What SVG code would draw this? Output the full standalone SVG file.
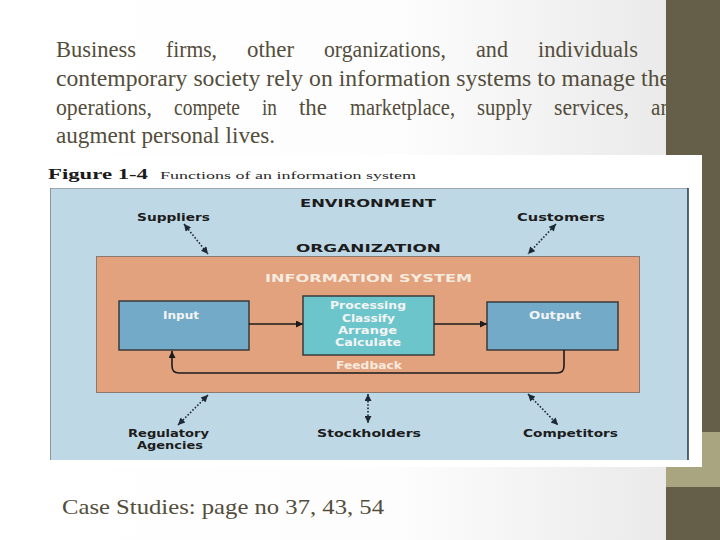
<svg xmlns="http://www.w3.org/2000/svg" width="720" height="540" viewBox="0 0 720 540">
<defs>
<linearGradient id="bg" x1="0" y1="0" x2="1" y2="0">
<stop offset="0" stop-color="#ffffff"/>
<stop offset="0.55" stop-color="#fdfdfd"/>
<stop offset="1" stop-color="#e6e6e6"/>
</linearGradient>
<marker id="ah" viewBox="0 0 10 10" refX="10" refY="5" markerUnits="userSpaceOnUse" markerWidth="10" markerHeight="7" orient="auto-start-reverse">
<path d="M0,0 L10,5 L0,10 z" fill="#1b1b1b"/>
</marker>
<marker id="dh" viewBox="0 0 10 10" refX="10" refY="5" markerUnits="userSpaceOnUse" markerWidth="9" markerHeight="7" orient="auto-start-reverse">
<path d="M0,0 L10,5 L0,10 z" fill="#1d2a36"/>
</marker>
<style>
.para{font-family:"Liberation Serif",serif;font-size:24px;fill:#534d3c}
.lbl{font-family:"DejaVu Sans",sans-serif;font-weight:bold;font-size:10.5px;fill:#1c1c1c}
.box{font-family:"DejaVu Sans",sans-serif;font-weight:bold;font-size:10px;fill:#f4f4f4}
.lt{font-family:"DejaVu Sans",sans-serif;font-weight:bold;font-size:11px;fill:#f7eadf}
.dot{fill:none;stroke:#1d2a36;stroke-width:1.6;stroke-dasharray:1.6 1.8;marker-start:url(#dh);marker-end:url(#dh)}
.sol{fill:none;stroke:#1b1b1b;stroke-width:1.6}
.sq{stroke:#3a3a3a;stroke-width:1.5}
</style>
</defs>
<rect x="0" y="0" width="720" height="540" fill="url(#bg)"/>
<rect x="666" y="0" width="54" height="540" fill="#655e48"/>
<rect x="666" y="432" width="54" height="55" fill="#a9a581"/>

<g id="paragraph" class="para">
<text x="56" y="57" textLength="80" lengthAdjust="spacingAndGlyphs">Business</text>
<text x="166" y="57" textLength="51" lengthAdjust="spacingAndGlyphs">firms,</text>
<text x="247" y="57" textLength="47" lengthAdjust="spacingAndGlyphs">other</text>
<text x="324" y="57" textLength="122" lengthAdjust="spacingAndGlyphs">organizations,</text>
<text x="476" y="57" textLength="32" lengthAdjust="spacingAndGlyphs">and</text>
<text x="538" y="57" textLength="100" lengthAdjust="spacingAndGlyphs">individuals</text>
<text x="56" y="86" textLength="614" lengthAdjust="spacingAndGlyphs">contemporary society rely on information systems to manage the</text>
<text x="56" y="115" textLength="96" lengthAdjust="spacingAndGlyphs">operations,</text>
<text x="174" y="115" textLength="66" lengthAdjust="spacingAndGlyphs">compete</text>
<text x="262" y="115" textLength="15" lengthAdjust="spacingAndGlyphs">in</text>
<text x="299" y="115" textLength="28" lengthAdjust="spacingAndGlyphs">the</text>
<text x="350" y="115" textLength="105" lengthAdjust="spacingAndGlyphs">marketplace,</text>
<text x="477" y="115" textLength="55" lengthAdjust="spacingAndGlyphs">supply</text>
<text x="554" y="115" textLength="75" lengthAdjust="spacingAndGlyphs">services,</text>
<text x="651" y="115" textLength="20" lengthAdjust="spacingAndGlyphs">an</text>
<text x="56" y="143" textLength="219" lengthAdjust="spacingAndGlyphs">augment personal lives.</text>
</g>
<rect x="666" y="0" width="54" height="150" fill="#655e48"/>

<g id="figure">
<rect x="44" y="155" width="658" height="312" fill="#ffffff"/>
<text x="48" y="179" font-family="Liberation Serif,serif" font-weight="bold" font-size="14" fill="#1a1a1a" textLength="100" lengthAdjust="spacingAndGlyphs">Figure 1-4</text>
<text x="160" y="179" font-family="Liberation Serif,serif" font-size="11" fill="#2a2a2a" textLength="256" lengthAdjust="spacingAndGlyphs">Functions of an information system</text>
<rect x="50" y="188" width="638" height="272" fill="#bfd8e6"/>
<line x1="50" y1="188.5" x2="688" y2="188.5" stroke="#9aa6ae" stroke-width="1"/>
<line x1="50.5" y1="188" x2="50.5" y2="460" stroke="#8a949a" stroke-width="1"/>
<line x1="688" y1="188" x2="688" y2="460" stroke="#26384a" stroke-width="1.5"/>
</g>

<g id="environment"><text class="lbl" x="300" y="207" textLength="136" lengthAdjust="spacingAndGlyphs">ENVIRONMENT</text></g>
<g id="suppliers"><text class="lbl" x="137" y="221" textLength="73" lengthAdjust="spacingAndGlyphs">Suppliers</text></g>
<g id="customers"><text class="lbl" x="517" y="221" textLength="88" lengthAdjust="spacingAndGlyphs">Customers</text></g>
<g id="organization">
<text class="lbl" x="296" y="252" textLength="145" lengthAdjust="spacingAndGlyphs">ORGANIZATION</text>
<rect x="96.5" y="256.5" width="543" height="136" fill="#e1a27d" stroke="#8c7a70" stroke-width="1"/>
</g>
<g id="information-system">
<text class="lt" x="265" y="282" textLength="207" lengthAdjust="spacingAndGlyphs">INFORMATION SYSTEM</text>
</g>
<g id="input">
<rect class="sq" x="119" y="301" width="130" height="49" fill="#72aac8"/>
<text class="box" x="163" y="319" textLength="36" lengthAdjust="spacingAndGlyphs">Input</text>
</g>
<g id="processing">
<rect class="sq" x="303" y="296" width="131" height="59" fill="#6cc5cb"/>
<text class="box" x="330" y="309" textLength="76" lengthAdjust="spacingAndGlyphs">Processing</text>
<text class="box" x="342" y="322" textLength="53" lengthAdjust="spacingAndGlyphs">Classify</text>
<text class="box" x="338" y="334" textLength="59" lengthAdjust="spacingAndGlyphs">Arrange</text>
<text class="box" x="335" y="346" textLength="66" lengthAdjust="spacingAndGlyphs">Calculate</text>
</g>
<g id="output">
<rect class="sq" x="487" y="302" width="131" height="48" fill="#72aac8"/>
<text class="box" x="529" y="319" textLength="52" lengthAdjust="spacingAndGlyphs">Output</text>
</g>
<g id="feedback-label"><text class="lt" x="336" y="369" textLength="66" lengthAdjust="spacingAndGlyphs">Feedback</text></g>
<g id="regulatory">
<text class="lbl" x="128" y="437" textLength="81" lengthAdjust="spacingAndGlyphs">Regulatory</text>
<text class="lbl" x="137" y="449" textLength="66" lengthAdjust="spacingAndGlyphs">Agencies</text>
</g>
<g id="stockholders"><text class="lbl" x="317" y="437" textLength="104" lengthAdjust="spacingAndGlyphs">Stockholders</text></g>
<g id="competitors"><text class="lbl" x="523" y="437" textLength="95" lengthAdjust="spacingAndGlyphs">Competitors</text></g>

<g id="connectors">
<line class="sol" x1="249" y1="324" x2="303" y2="324" marker-end="url(#ah)"/>
<line class="sol" x1="434" y1="324" x2="487" y2="324" marker-end="url(#ah)"/>
<path class="sol" d="M564,350 V366 Q564,373 557,373 H179 Q172,373 172,366 V351" marker-end="url(#ah)"/>
<line class="dot" x1="184" y1="224" x2="208" y2="254"/>
<line class="dot" x1="556" y1="224" x2="528" y2="254"/>
<line class="dot" x1="208" y1="395" x2="178" y2="425"/>
<line class="dot" x1="368" y1="394" x2="368" y2="423"/>
<line class="dot" x1="528" y1="394" x2="558" y2="425"/>
</g>

<g id="case-studies">
<text x="62" y="514" font-family="Liberation Serif,serif" font-size="22" fill="#534d3c" textLength="322" lengthAdjust="spacingAndGlyphs">Case Studies: page no 37, 43, 54</text>
</g>
</svg>
